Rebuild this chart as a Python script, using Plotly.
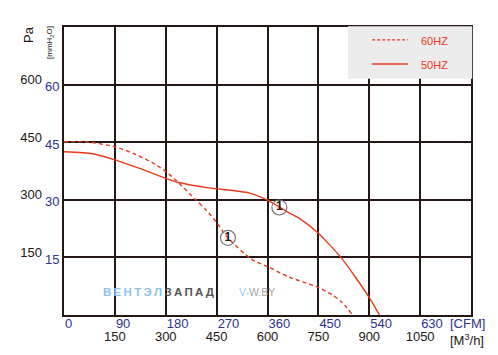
import plotly.graph_objects as go

# ---- data (CFM vs mmH2O) ----
cfm_60 = [0, 39, 90, 127, 157, 180, 203, 233, 251, 269, 290, 331, 360, 398, 448, 475, 491, 509]
mm_60 = [45.1, 45.1, 43.8, 41.8, 39.6, 37.4, 34.4, 30.0, 27.4, 24.3, 20.1, 14.6, 12.6, 9.9, 7.3, 5.2, 3.4, 0.3]

cfm_50 = [0, 51, 90, 135, 180, 203, 256, 327, 360, 398, 417, 450, 491, 539, 558]
mm_50 = [42.5, 42.0, 40.4, 38.1, 35.6, 34.5, 33.1, 31.8, 29.9, 26.6, 25.1, 21.3, 14.8, 4.8, 0.0]

marker_cfm = [290, 381]
marker_mm = [20.1, 28.0]

cfm_ticks = [0, 90, 180, 270, 360, 450, 540, 630]
m3h_ticks = [150, 300, 450, 600, 750, 900, 1050]
mm_ticks = [15, 30, 45, 60]
pa_ticks = [150, 300, 450, 600]

RED = "#e83a1e"
INK = "#231815"
BLUE = "#2e3192"
FONT = "Liberation Sans, Arial, sans-serif"

fig = go.Figure()
fig.add_trace(go.Scatter(x=cfm_60, y=mm_60, mode="lines", name="60HZ",
                         line=dict(color=RED, width=1.4, dash="4px,3px", shape="spline", smoothing=0.7),
                         showlegend=False))
fig.add_trace(go.Scatter(x=cfm_50, y=mm_50, mode="lines", name="50HZ",
                         line=dict(color=RED, width=1.4, shape="spline", smoothing=0.6),
                         showlegend=False))
fig.add_trace(go.Scatter(x=marker_cfm, y=marker_mm, mode="markers+text", text=["1", "1"],
                         textposition="middle center",
                         textfont=dict(size=12, color=INK, family=FONT, weight="bold"),
                         marker=dict(symbol="circle-open", size=15, color="#7a7a7a", line=dict(width=1.2)),
                         showlegend=False))
# empty helper traces so the secondary unit axes (m3/h, Pa) are rendered
fig.add_trace(go.Scatter(x=[], y=[], xaxis="x2", yaxis="y", showlegend=False, hoverinfo="skip"))
fig.add_trace(go.Scatter(x=[], y=[], xaxis="x", yaxis="y2", showlegend=False, hoverinfo="skip"))

# page body has an 8px margin: shrink the figure so the plot lands where the reference has it
fig.update_layout(
    width=490, height=347,
    margin=dict(l=56, r=27, t=19, b=40),
    paper_bgcolor="white", plot_bgcolor="white",
    font=dict(family=FONT, color=INK, size=13),
    xaxis=dict(range=[0, 720], tickvals=cfm_ticks, ticktext=[str(v) for v in cfm_ticks],
               showgrid=True, gridcolor=INK, gridwidth=2, zeroline=False,
               showline=True, mirror=True, linecolor=INK, linewidth=2, ticks="",
               ticklabelposition="outside right", ticklabelstandoff=-5,
               tickfont=dict(color=BLUE, size=13)),
    xaxis2=dict(range=[0, 1200], tickvals=m3h_ticks, ticktext=[str(v) for v in m3h_ticks],
                overlaying="x", anchor="y", side="bottom", showgrid=False, zeroline=False,
                showline=False, ticks="", ticklabelstandoff=12, tickfont=dict(color=INK, size=13)),
    yaxis=dict(range=[0, 75], tickvals=mm_ticks, ticktext=[str(v) for v in mm_ticks],
               showgrid=True, gridcolor=INK, gridwidth=2, zeroline=False,
               showline=True, mirror=True, linecolor=INK, linewidth=2, ticks="",
               ticklabelshift=2, tickfont=dict(color=BLUE, size=13)),
    yaxis2=dict(range=[0, 750], tickvals=pa_ticks, ticktext=[str(v) for v in pa_ticks],
                overlaying="y", anchor="x", side="left", showgrid=False, zeroline=False,
                showline=False, ticks="", ticklabelstandoff=21, ticklabelshift=-5,
                tickfont=dict(color=INK, size=13)),
)

# legend box
lx0 = (348 - 64) / 407
fig.add_shape(type="rect", xref="paper", yref="paper", x0=lx0, x1=1.003, y0=0.82, y1=1.003,
              fillcolor="#ebeceb", line=dict(width=0), layer="above")
fig.add_shape(type="line", xref="paper", yref="paper", x0=0.757, x1=0.845, y0=0.955, y1=0.955,
              line=dict(color=RED, width=1.3, dash="3px,2px"))
fig.add_shape(type="line", xref="paper", yref="paper", x0=0.757, x1=0.845, y0=0.8715, y1=0.8715,
              line=dict(color=RED, width=1.3))
for name, yy in [("60HZ", 0.952), ("50HZ", 0.868)]:
    fig.add_annotation(text=name, xref="paper", yref="paper", x=0.872, y=yy, xanchor="left",
                       yanchor="middle", showarrow=False, font=dict(color=RED, size=11))

# axis unit labels
fig.add_annotation(text="[CFM]", xref="x", yref="paper", x=680, y=0, yshift=-8,
                   xanchor="left", yanchor="middle", showarrow=False, font=dict(color=BLUE, size=13))
fig.add_annotation(text="[M<sup>3</sup>/h]", xref="x", yref="paper", x=680, y=0, yshift=-25,
                   xanchor="left", yanchor="middle", showarrow=False, font=dict(color=INK, size=13))
fig.add_annotation(text="Pa", xref="paper", yref="paper", x=0, y=1, xshift=-36, yshift=-8,
                   textangle=-90, xanchor="center", yanchor="middle", showarrow=False,
                   font=dict(color=INK, size=13))
fig.add_annotation(text="[mmH<sub>2</sub>O]", xref="paper", yref="paper", x=0, y=1, xshift=-14, yshift=-16,
                   textangle=-90, xanchor="center", yanchor="middle", showarrow=False,
                   font=dict(color=INK, size=8))

# watermark
ts = "\u2009"
fig.add_annotation(
    text="<span style='color:#8ec3ea'>" + ts.join("ВЕНТЭЛ") + "</span>" + ts +
         "<span style='color:#555555'>" + ts.join("ЗАПАД") + "</span>",
    xref="paper", yref="paper", x=(101 - 64) / 407, y=(315 - 292) / 288, xanchor="left", yanchor="middle",
    showarrow=False, font=dict(size=11.5, weight="bold"))
fig.add_annotation(
    text="<span style='color:#9cc9ee'>V-</span><span style='color:#a6a6a6'>W.BY</span>",
    xref="paper", yref="paper", x=(237 - 64) / 407, y=(315 - 292) / 288, xanchor="left", yanchor="middle",
    showarrow=False, font=dict(size=10.5))

fig.write_html("out.html")
